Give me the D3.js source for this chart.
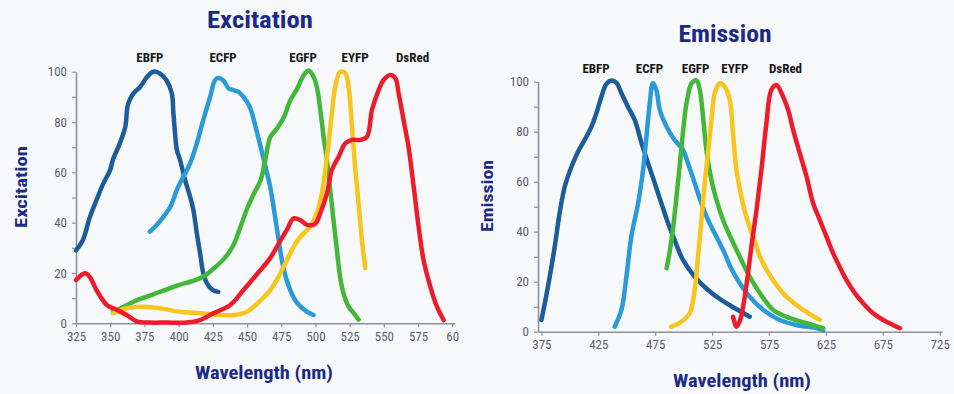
<!DOCTYPE html>
<html>
<head>
<meta charset="utf-8">
<script src="https://cdn.jsdelivr.net/npm/d3@7"></script>
<style>
    html, body { margin: 0; padding: 0; background: #f7f8fa; }
    svg { display: block; }
    .narrow { font-family: "Liberation Sans Narrow", "Arial Narrow", "Roboto Condensed", sans-serif; font-stretch: condensed; }
</style>
</head>
<body>
<div id="chart"></div>
<script>
// Protein names, in drawing order
const proteins = ["EBFP", "ECFP", "EGFP", "EYFP", "DsRed"];

// Excitation spectra: [wavelength nm, relative excitation]
const exEBFP = [[325,29],[330,33],[335,42],[340,49],[345,55.6],[350,61],[352,65],[357,71.5],[361,78],[363,87],[367,91.4],[372,94],[377,98],[381.5,100],[386,99.4],[391,96.7],[395,91.4],[396.2,83.5],[397.4,75.5],[398.7,69],[401,65],[404.7,57],[408.4,50.3],[410.8,45],[413.3,35.8],[415.7,27.8],[418,20],[420.6,16],[425,13.2],[429,12.5]];
const exECFP = [[379,36.4],[384,39.1],[389,42.4],[394,46.3],[398.7,53],[403.5,58.3],[408.4,63.6],[413.3,71.5],[418,80.8],[423,90],[426.7,96.7],[429,97.5],[432.8,96.5],[436.4,93.4],[440,92.7],[443.7,92],[447.4,90],[452,86],[457,76.5],[462,65.5],[467,54],[472,37],[476.6,22],[481,14],[486,8.5],[493.7,4.6],[498.6,3.3]];
const exEGFP = [[352,4.6],[360,6.6],[370,9.3],[380,11.2],[390,13.2],[400,15.2],[410,16.8],[418,18.5],[425,21.5],[433,25.5],[440,31],[445,38],[450,45.5],[455,51.5],[460,57],[463,64],[467,74],[472,77.5],[477,82],[481.5,88.5],[486.4,93],[491.3,98.5],[495,100.5],[498.6,98],[501,94],[503.5,85],[506,74],[508.4,65],[510.8,53],[513.2,41],[515.7,29],[518,18.5],[520.5,12],[524.2,6.6],[528,4],[531.5,1.5]];
const exEYFP = [[352,4],[362,6],[374,6.6],[386,6],[401,4.6],[416,4],[430,3.3],[441,3.3],[450,4.6],[459.6,9],[467,13.2],[474,19.5],[479,25],[484,30.4],[489,34.4],[496,38.4],[501,43.7],[504.7,51.7],[507.2,61],[509.6,71.5],[512,83.5],[514.5,94],[518,100],[521.8,99.4],[524.2,94],[526.7,78],[529,62],[531.5,47.7],[534,33],[536.4,22]];
const exDsRed = [[325,17.2],[331.6,19.9],[335,18.5],[340,13.2],[347.5,7.3],[355,5.3],[362,3.3],[369.4,0.8],[379,0.3],[391,0.3],[406,0.3],[415.7,1.3],[425.4,4],[437.7,7.3],[447.4,13.2],[457.2,19.5],[467,26],[474,32.5],[479,37],[484,41.7],[489,41],[494,39.1],[499.8,39.5],[503.5,43.7],[508.4,51.7],[512,60.9],[517,66.2],[521.8,71.5],[526.7,72.9],[532.8,72.9],[537.7,74.2],[541.3,84.8],[546.2,92.7],[549.8,96.7],[554.7,98.7],[558.4,97.4],[560.8,91.4],[564.4,80.8],[568,70.2],[571.8,54.3],[575.4,38.4],[579,25.2],[584,14.5],[588.8,6.6],[593.7,1.3]];

// Emission spectra: [wavelength nm, relative emission]
const emEBFP = [[375,4.7],[378,11.4],[382.3,22],[386.7,34],[391,47.4],[395.5,58],[401.4,66],[407.2,72],[414.5,78],[419,82],[423.3,87.4],[427.7,94],[432,99],[436.5,100.5],[441,99.5],[445.3,95.4],[451,90],[457,84.7],[463,75.4],[468.7,67.4],[474.6,59.4],[480.4,51.4],[486.3,43.4],[492,36.7],[499.4,28.7],[509.7,22],[521.4,16.7],[533,12.7],[545,9.4],[558,6]];
const emECFP = [[439.4,2],[445.3,8.7],[449.7,22],[454,38],[460,51.4],[464.3,64.7],[467.3,78],[470.2,91.4],[473,99.4],[476,96.7],[479,88.7],[485,82],[492,76.7],[499.4,72.7],[503.8,67.4],[509.7,59.4],[515.6,51.4],[521.4,44.7],[528.8,38],[536,31.4],[541,26],[549.3,19.4],[558,14],[570,8.7],[584.5,4.7],[599,2.7],[617,1.4],[622.6,0.7]];
const emEGFP = [[485,25.4],[488,32.7],[490.8,42],[493.7,54],[496.7,67.4],[499.6,80.7],[502.5,91.4],[507,99.4],[511.3,100.5],[514.2,96.7],[517,86],[520,72.7],[524.4,60.7],[528.8,52.7],[534.6,44.7],[541,38],[549.3,30],[558,22],[567,15.4],[578.7,8.7],[593.4,5.4],[608,3.4],[622.6,1.4]];
const emEYFP = [[489,2],[498,4],[505.3,7.4],[509.7,16.7],[512.6,30],[515.6,44.7],[518.5,59.4],[521.4,71.4],[524.4,84.7],[527.3,95.4],[531.7,99.4],[536,98],[540.5,92.7],[543.4,79],[546.3,65],[550.7,54],[555,46],[561,38],[568.3,28.7],[578.5,20.7],[590.3,14],[605,8.7],[619.6,4.7]];
const emDsRed = [[543.4,6],[545,3.2],[546.5,2],[549,4],[551,7],[555,18],[559.5,34],[564,48.7],[568.3,64.7],[572.7,83.4],[577,96.7],[581.5,98.7],[587.4,94],[591.8,88.7],[596.2,80.7],[602,71.4],[608,62],[613.8,51.4],[619.6,44.7],[625.5,38],[631.3,31.4],[637,26],[643,20.7],[650.4,15.4],[657.7,11.4],[666.5,7.4],[675.3,4.7],[684,2.7],[690,1.4]];

// Tick values and labels
const exTicks = [325, 350, 375, 400, 425, 450, 475, 500, 525, 550, 575, 600];
const exTickLabels = ["325", "350", "375", "400", "425", "450", "475", "500", "525", "550", "575", "60"];
const emTicks = [375, 425, 475, 525, 575, 625, 675, 725];
const emTickLabels = ["375", "425", "475", "525", "575", "625", "675", "725"];
const yTicks = [0, 10, 20, 30, 40, 50, 60, 70, 80, 90, 100];

// Styles
const colors = { EBFP: "#1d5c9b", ECFP: "#2a9ad8", EGFP: "#43b838", EYFP: "#f8c51e", DsRed: "#ec1c2c" };
const navy = "#1c2a86";
const axisGray = "#8d909e";

const W = 954, H = 394;
const svg = d3.select("#chart").append("svg")
    .attr("width", W)
    .attr("height", H);

svg.append("rect")
    .attr("width", W)
    .attr("height", H)
    .attr("fill", "#f7f8fa");

function drawPanel(cfg) {
    const x = d3.scaleLinear().domain(cfg.xDomain).range(cfg.xRange);
    const y = d3.scaleLinear().domain([0, 100]).range(cfg.yRange);
    const g = svg.append("g");

    // x axis
    const xAxis = g.append("g")
        .attr("transform", `translate(0,${cfg.yRange[0]})`)
        .call(d3.axisBottom(x)
            .tickValues(cfg.ticks)
            .tickFormat((d, i) => cfg.tickLabels[i])
            .tickSize(4)
            .tickSizeOuter(0)
            .tickPadding(4));

    // y axis, minor ticks every 10
    const yAxis = g.append("g")
        .attr("transform", `translate(${cfg.xRange[0]},0)`)
        .call(d3.axisLeft(y)
            .tickValues(yTicks)
            .tickFormat(d => d % 20 === 0 ? d : "")
            .tickSize(4)
            .tickSizeOuter(0)
            .tickPadding(4));

    [xAxis, yAxis].forEach(a => {
        a.select(".domain").attr("stroke", axisGray).attr("stroke-width", 1.6);
        a.selectAll(".tick line").attr("stroke", axisGray).attr("stroke-width", 1.2);
        a.selectAll(".tick text")
            .attr("class", "narrow")
            .style("font-size", "13px")
            .attr("fill", "#5d6070");
    });
    yAxis.selectAll(".tick text").attr("dx", "-1");

    // spectra
    const line = d3.line()
        .x(d => x(d[0]))
        .y(d => y(d[1]))
        .curve(d3.curveCatmullRom.alpha(0.5));

    proteins.forEach(p => {
        g.append("path")
            .datum(cfg.series[p])
            .attr("fill", "none")
            .attr("stroke", colors[p])
            .attr("stroke-width", 4.5)
            .attr("stroke-linecap", "round")
            .attr("stroke-linejoin", "round")
            .attr("d", line);
    });

    // protein labels above the peaks
    proteins.forEach(p => {
        g.append("text")
            .attr("class", "narrow")
            .attr("x", x(cfg.labelAt[p]))
            .attr("y", cfg.labelY)
            .attr("text-anchor", "middle")
            .style("font-size", "13px")
            .style("font-weight", "bold")
            .attr("fill", "#161616")
            .text(p);
    });

    // titles
    g.append("text")
        .attr("class", "narrow")
        .attr("x", cfg.titleX)
        .attr("y", cfg.titleY)
        .attr("text-anchor", "middle")
        .attr("textLength", cfg.titleW)
        .attr("lengthAdjust", "spacingAndGlyphs")
        .style("font-size", "23px")
        .style("font-weight", "bold")
        .attr("fill", navy)
        .text(cfg.title);

    g.append("text")
        .attr("class", "narrow")
        .attr("x", cfg.xTitleX)
        .attr("y", cfg.xTitleY)
        .attr("text-anchor", "middle")
        .attr("textLength", 138)
        .attr("lengthAdjust", "spacingAndGlyphs")
        .style("font-size", "18px")
        .style("font-weight", "bold")
        .attr("fill", navy)
        .text("Wavelength (nm)");

    g.append("text")
        .attr("class", "narrow")
        .attr("transform", `translate(${cfg.yTitleX},${cfg.yTitleY}) rotate(-90)`)
        .attr("text-anchor", "middle")
        .attr("textLength", cfg.yTitleW)
        .attr("lengthAdjust", "spacingAndGlyphs")
        .style("font-size", "17px")
        .style("font-weight", "bold")
        .attr("fill", navy)
        .text(cfg.title);
}

drawPanel({
    title: "Excitation",
    xDomain: [325, 602], xRange: [76, 455], yRange: [323.3, 71.7],
    ticks: exTicks, tickLabels: exTickLabels,
    series: { EBFP: exEBFP, ECFP: exECFP, EGFP: exEGFP, EYFP: exEYFP, DsRed: exDsRed },
    labelAt: { EBFP: 379, ECFP: 432.5, EGFP: 491, EYFP: 529, DsRed: 571 },
    labelY: 61.5,
    titleX: 260, titleY: 28, titleW: 106,
    xTitleX: 264, xTitleY: 379,
    yTitleX: 27, yTitleY: 187, yTitleW: 82
});

drawPanel({
    title: "Emission",
    xDomain: [372, 727], xRange: [538, 942], yRange: [331.7, 81.7],
    ticks: emTicks, tickLabels: emTickLabels,
    series: { EBFP: emEBFP, ECFP: emECFP, EGFP: emEGFP, EYFP: emEYFP, DsRed: emDsRed },
    labelAt: { EBFP: 423, ECFP: 470, EGFP: 510.5, EYFP: 545, DsRed: 589.5 },
    labelY: 73,
    titleX: 725, titleY: 41.5, titleW: 93,
    xTitleX: 742, xTitleY: 387,
    yTitleX: 493, yTitleY: 196, yTitleW: 72
});
</script>
</body>
</html>
